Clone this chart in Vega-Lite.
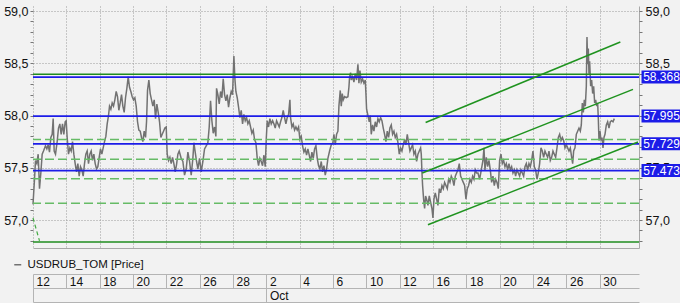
{
  "$schema": "https://vega.github.io/schema/vega-lite/v6.json",
  "width": 606,
  "height": 242,
  "autosize": {"type": "none"},
  "padding": {"left": 33, "top": 6, "right": 41, "bottom": 55},
  "background": "#f2f2f2",
  "config": {
    "view": {"stroke": null},
    "font": "Liberation Sans",
    "axis": {"labelFont": "Liberation Sans", "labelColor": "#111111", "title": null}
  },
  "datasets": {
    "price": [
      {"t":0.0,"p":57.15},{"t":0.03,"p":57.23},{"t":0.09,"p":57.39},{"t":0.15,"p":57.57},{"t":0.23,"p":57.54},{"t":0.31,"p":57.63},{"t":0.39,"p":57.30},{"t":0.47,"p":57.45},{"t":0.55,"p":57.63},{"t":0.63,"p":57.66},{"t":0.75,"p":57.71},{"t":0.83,"p":57.68},{"t":0.91,"p":57.72},{"t":0.99,"p":57.65},{"t":1.07,"p":57.79},{"t":1.15,"p":57.82},{"t":1.21,"p":57.97},{"t":1.27,"p":57.66},{"t":1.35,"p":57.63},{"t":1.45,"p":57.75},{"t":1.53,"p":57.88},{"t":1.61,"p":57.92},{"t":1.69,"p":57.82},{"t":1.77,"p":57.92},{"t":1.85,"p":57.82},{"t":1.93,"p":57.94},{"t":1.99,"p":57.95},{"t":2.05,"p":57.79},{"t":2.13,"p":57.63},{"t":2.21,"p":57.69},{"t":2.29,"p":57.66},{"t":2.37,"p":57.75},{"t":2.45,"p":57.63},{"t":2.53,"p":57.54},{"t":2.61,"p":57.46},{"t":2.69,"p":57.54},{"t":2.77,"p":57.42},{"t":2.85,"p":57.51},{"t":2.93,"p":57.48},{"t":3.01,"p":57.42},{"t":3.09,"p":57.54},{"t":3.17,"p":57.63},{"t":3.25,"p":57.66},{"t":3.33,"p":57.54},{"t":3.41,"p":57.63},{"t":3.49,"p":57.66},{"t":3.57,"p":57.57},{"t":3.65,"p":57.63},{"t":3.73,"p":57.54},{"t":3.81,"p":57.49},{"t":3.89,"p":57.51},{"t":3.97,"p":57.60},{"t":4.05,"p":57.68},{"t":4.13,"p":57.63},{"t":4.21,"p":57.69},{"t":4.29,"p":57.75},{"t":4.37,"p":57.80},{"t":4.45,"p":57.92},{"t":4.53,"p":58.00},{"t":4.59,"p":58.09},{"t":4.67,"p":58.06},{"t":4.75,"p":58.12},{"t":4.83,"p":58.09},{"t":4.91,"p":58.15},{"t":4.99,"p":58.23},{"t":5.07,"p":58.18},{"t":5.15,"p":58.05},{"t":5.23,"p":58.12},{"t":5.31,"p":58.20},{"t":5.39,"p":58.09},{"t":5.47,"p":58.03},{"t":5.55,"p":58.17},{"t":5.63,"p":58.26},{"t":5.71,"p":58.37},{"t":5.79,"p":58.27},{"t":5.87,"p":58.23},{"t":5.95,"p":58.18},{"t":6.03,"p":58.15},{"t":6.11,"p":58.17},{"t":6.19,"p":58.09},{"t":6.27,"p":57.94},{"t":6.35,"p":57.86},{"t":6.43,"p":57.85},{"t":6.51,"p":57.79},{"t":6.59,"p":57.75},{"t":6.67,"p":57.85},{"t":6.75,"p":57.79},{"t":6.81,"p":57.94},{"t":6.87,"p":58.24},{"t":6.95,"p":58.34},{"t":7.03,"p":58.21},{"t":7.11,"p":58.15},{"t":7.19,"p":58.09},{"t":7.27,"p":58.15},{"t":7.35,"p":57.97},{"t":7.43,"p":58.11},{"t":7.51,"p":58.03},{"t":7.59,"p":57.94},{"t":7.67,"p":57.79},{"t":7.75,"p":57.82},{"t":7.83,"p":57.85},{"t":7.91,"p":57.88},{"t":7.99,"p":57.89},{"t":8.05,"p":57.63},{"t":8.13,"p":57.57},{"t":8.21,"p":57.60},{"t":8.29,"p":57.54},{"t":8.37,"p":57.60},{"t":8.45,"p":57.54},{"t":8.53,"p":57.46},{"t":8.61,"p":57.53},{"t":8.69,"p":57.63},{"t":8.77,"p":57.66},
      {"t":8.89,"p":57.59},{"t":8.99,"p":57.56},{"t":9.09,"p":57.43},{"t":9.19,"p":57.49},{"t":9.29,"p":57.65},{"t":9.39,"p":57.56},{"t":9.49,"p":57.43},{"t":9.59,"p":57.59},{"t":9.65,"p":57.74},{"t":9.73,"p":57.65},{"t":9.81,"p":57.56},{"t":9.89,"p":57.49},{"t":9.99,"p":57.59},{"t":10.09,"p":57.46},{"t":10.19,"p":57.56},{"t":10.29,"p":57.68},{"t":10.39,"p":57.71},{"t":10.49,"p":57.74},{"t":10.57,"p":57.89},{"t":10.65,"p":58.14},{"t":10.73,"p":57.95},{"t":10.81,"p":57.83},{"t":10.89,"p":57.89},{"t":10.97,"p":57.80},{"t":11.01,"p":58.26},{"t":11.09,"p":58.20},{"t":11.17,"p":58.11},{"t":11.25,"p":58.23},{"t":11.33,"p":58.17},{"t":11.41,"p":58.35},{"t":11.49,"p":58.20},{"t":11.57,"p":58.14},{"t":11.65,"p":58.20},{"t":11.73,"p":58.08},{"t":11.81,"p":58.17},{"t":11.89,"p":58.23},{"t":11.97,"p":58.20},{"t":12.05,"p":58.57},{"t":12.11,"p":58.35},{"t":12.17,"p":58.23},{"t":12.25,"p":58.17},{"t":12.33,"p":58.08},{"t":12.41,"p":57.98},{"t":12.49,"p":58.05},{"t":12.57,"p":57.92},{"t":12.65,"p":58.01},{"t":12.73,"p":57.95},{"t":12.81,"p":57.98},{"t":12.89,"p":57.92},{"t":12.97,"p":57.95},{"t":13.05,"p":57.89},{"t":13.13,"p":57.83},{"t":13.21,"p":57.86},{"t":13.29,"p":57.77},{"t":13.37,"p":57.74},{"t":13.45,"p":57.59},{"t":13.53,"p":57.52},{"t":13.61,"p":57.59},{"t":13.69,"p":57.56},{"t":13.77,"p":57.52},{"t":13.85,"p":57.62},{"t":13.93,"p":57.51},{"t":13.99,"p":57.77},{"t":14.05,"p":57.95},{"t":14.13,"p":57.89},{"t":14.21,"p":57.97},{"t":14.29,"p":57.92},{"t":14.37,"p":57.95},{"t":14.45,"p":57.92},{"t":14.53,"p":57.88},{"t":14.61,"p":57.95},{"t":14.69,"p":57.92},{"t":14.77,"p":57.89},{"t":14.85,"p":57.94},{"t":14.93,"p":57.98},{"t":15.01,"p":58.05},{"t":15.09,"p":57.98},{"t":15.17,"p":57.92},{"t":15.25,"p":57.98},{"t":15.33,"p":58.01},{"t":15.41,"p":58.15},{"t":15.45,"p":57.98},{"t":15.53,"p":57.89},{"t":15.61,"p":57.92},{"t":15.69,"p":57.86},{"t":15.77,"p":57.89},{"t":15.85,"p":57.86},{"t":15.93,"p":57.89},{"t":16.01,"p":57.77},{"t":16.09,"p":57.80},{"t":16.17,"p":57.71},{"t":16.25,"p":57.65},{"t":16.33,"p":57.68},{"t":16.41,"p":57.62},{"t":16.49,"p":57.68},{"t":16.57,"p":57.62},{"t":16.65,"p":57.56},{"t":16.73,"p":57.65},{"t":16.81,"p":57.59},{"t":16.89,"p":57.68},{"t":16.97,"p":57.71},{"t":17.05,"p":57.59},{"t":17.13,"p":57.52},{"t":17.21,"p":57.49},{"t":17.29,"p":57.56},{"t":17.37,"p":57.46},{"t":17.45,"p":57.52},{"t":17.53,"p":57.43},{"t":17.61,"p":57.49},{"t":17.69,"p":57.59},
      {"t":17.79,"p":57.66},{"t":17.89,"p":57.72},{"t":17.99,"p":57.74},{"t":18.05,"p":57.82},{"t":18.13,"p":57.72},{"t":18.21,"p":57.82},{"t":18.29,"p":57.85},{"t":18.35,"p":58.09},{"t":18.43,"p":58.24},{"t":18.49,"p":58.09},{"t":18.55,"p":58.21},{"t":18.61,"p":58.15},{"t":18.69,"p":58.18},{"t":18.79,"p":58.17},{"t":18.89,"p":58.18},{"t":18.95,"p":58.27},{"t":18.99,"p":58.37},{"t":19.05,"p":58.41},{"t":19.09,"p":58.34},{"t":19.17,"p":58.37},{"t":19.25,"p":58.32},{"t":19.33,"p":58.40},{"t":19.41,"p":58.34},{"t":19.49,"p":58.49},{"t":19.55,"p":58.31},{"t":19.61,"p":58.43},{"t":19.69,"p":58.32},{"t":19.77,"p":58.35},{"t":19.85,"p":58.31},{"t":19.93,"p":58.34},{"t":19.97,"p":58.21},{"t":20.01,"p":58.06},{"t":20.09,"p":58.00},{"t":20.17,"p":57.94},{"t":20.23,"p":58.00},{"t":20.29,"p":57.82},{"t":20.37,"p":57.91},{"t":20.45,"p":57.85},{"t":20.53,"p":57.94},{"t":20.61,"p":57.89},{"t":20.69,"p":57.97},{"t":20.77,"p":57.94},{"t":20.85,"p":57.98},{"t":20.93,"p":57.95},{"t":21.01,"p":57.88},{"t":21.09,"p":57.82},{"t":21.17,"p":57.75},{"t":21.25,"p":57.85},{"t":21.33,"p":57.79},{"t":21.41,"p":57.88},{"t":21.49,"p":57.91},{"t":21.57,"p":57.82},{"t":21.65,"p":57.85},{"t":21.73,"p":57.79},{"t":21.81,"p":57.82},{"t":21.89,"p":57.74},{"t":21.97,"p":57.63},{"t":22.05,"p":57.69},{"t":22.13,"p":57.66},{"t":22.21,"p":57.72},{"t":22.29,"p":57.77},{"t":22.37,"p":57.72},{"t":22.45,"p":57.82},{"t":22.53,"p":57.74},{"t":22.61,"p":57.66},{"t":22.69,"p":57.69},{"t":22.77,"p":57.72},{"t":22.85,"p":57.63},{"t":22.93,"p":57.66},{"t":23.01,"p":57.56},{"t":23.09,"p":57.63},{"t":23.17,"p":57.66},{"t":23.25,"p":57.69},{"t":23.29,"p":57.63},{"t":23.33,"p":57.46},{"t":23.37,"p":57.33},{"t":23.43,"p":57.20},{"t":23.49,"p":57.11},{"t":23.55,"p":57.23},{"t":23.61,"p":57.20},{"t":23.69,"p":57.14},{"t":23.77,"p":57.23},{"t":23.85,"p":57.17},{"t":23.93,"p":57.11},{"t":23.99,"p":57.02},{"t":24.05,"p":57.20},{"t":24.13,"p":57.26},{"t":24.21,"p":57.20},{"t":24.29,"p":57.14},{"t":24.37,"p":57.30},{"t":24.45,"p":57.26},{"t":24.53,"p":57.33},{"t":24.61,"p":57.30},{"t":24.69,"p":57.36},{"t":24.77,"p":57.33},{"t":24.85,"p":57.30},{"t":24.93,"p":57.39},{"t":25.01,"p":57.36},{"t":25.09,"p":57.42},{"t":25.17,"p":57.39},{"t":25.25,"p":57.33},{"t":25.33,"p":57.42},{"t":25.41,"p":57.45},{"t":25.49,"p":57.48},{"t":25.57,"p":57.54},{"t":25.65,"p":57.42},{"t":25.73,"p":57.39},{"t":25.81,"p":57.36},{"t":25.89,"p":57.33},{"t":25.97,"p":57.20},{"t":26.05,"p":57.30},{"t":26.13,"p":57.33},{"t":26.21,"p":57.39},{"t":26.29,"p":57.36},{"t":26.37,"p":57.42},{"t":26.45,"p":57.39},{"t":26.53,"p":57.48},{"t":26.61,"p":57.45},
      {"t":26.69,"p":57.45},{"t":26.79,"p":57.39},{"t":26.89,"p":57.48},{"t":26.99,"p":57.57},{"t":27.05,"p":57.69},{"t":27.11,"p":57.48},{"t":27.19,"p":57.60},{"t":27.27,"p":57.51},{"t":27.35,"p":57.57},{"t":27.43,"p":57.48},{"t":27.51,"p":57.36},{"t":27.59,"p":57.42},{"t":27.67,"p":57.33},{"t":27.75,"p":57.39},{"t":27.83,"p":57.36},{"t":27.91,"p":57.30},{"t":27.99,"p":57.57},{"t":28.07,"p":57.63},{"t":28.15,"p":57.54},{"t":28.23,"p":57.57},{"t":28.31,"p":57.51},{"t":28.39,"p":57.54},{"t":28.47,"p":57.48},{"t":28.55,"p":57.54},{"t":28.63,"p":57.48},{"t":28.71,"p":57.51},{"t":28.79,"p":57.45},{"t":28.87,"p":57.48},{"t":28.95,"p":57.42},{"t":29.03,"p":57.48},{"t":29.11,"p":57.45},{"t":29.19,"p":57.42},{"t":29.27,"p":57.48},{"t":29.35,"p":57.45},{"t":29.43,"p":57.42},{"t":29.51,"p":57.51},{"t":29.59,"p":57.54},{"t":29.67,"p":57.48},{"t":29.75,"p":57.54},{"t":29.83,"p":57.51},{"t":29.91,"p":57.57},{"t":29.99,"p":57.66},{"t":30.07,"p":57.51},{"t":30.15,"p":57.48},{"t":30.23,"p":57.39},{"t":30.31,"p":57.45},{"t":30.39,"p":57.54},{"t":30.47,"p":57.69},{"t":30.55,"p":57.66},{"t":30.63,"p":57.60},{"t":30.71,"p":57.66},{"t":30.79,"p":57.63},{"t":30.87,"p":57.60},{"t":30.95,"p":57.66},{"t":31.03,"p":57.57},{"t":31.11,"p":57.60},{"t":31.19,"p":57.66},{"t":31.27,"p":57.63},{"t":31.35,"p":57.60},{"t":31.43,"p":57.69},{"t":31.51,"p":57.79},{"t":31.59,"p":57.82},{"t":31.67,"p":57.76},{"t":31.75,"p":57.79},{"t":31.83,"p":57.76},{"t":31.91,"p":57.69},{"t":31.99,"p":57.72},{"t":32.07,"p":57.69},{"t":32.15,"p":57.66},{"t":32.23,"p":57.69},{"t":32.31,"p":57.60},{"t":32.37,"p":57.54},{"t":32.43,"p":57.66},{"t":32.51,"p":57.69},{"t":32.59,"p":57.82},{"t":32.67,"p":57.85},{"t":32.75,"p":57.88},{"t":32.83,"p":57.85},{"t":32.89,"p":57.91},{"t":32.95,"p":58.12},{"t":33.01,"p":58.03},{"t":33.07,"p":58.15},{"t":33.13,"p":58.09},{"t":33.19,"p":58.28},{"t":33.23,"p":58.75},{"t":33.27,"p":58.49},{"t":33.31,"p":58.64},{"t":33.35,"p":58.40},{"t":33.39,"p":58.52},{"t":33.45,"p":58.28},{"t":33.51,"p":58.34},{"t":33.57,"p":58.21},{"t":33.63,"p":58.28},{"t":33.69,"p":58.12},{"t":33.75,"p":58.15},{"t":33.81,"p":58.09},{"t":33.87,"p":58.12},{"t":33.91,"p":57.97},{"t":33.95,"p":57.76},{"t":34.01,"p":57.85},{"t":34.07,"p":57.76},{"t":34.13,"p":57.79},{"t":34.19,"p":57.69},{"t":34.25,"p":57.79},{"t":34.31,"p":57.82},{"t":34.39,"p":57.91},{"t":34.47,"p":57.94},{"t":34.55,"p":57.88},{"t":34.63,"p":57.94},{"t":34.71,"p":57.95},{"t":34.79,"p":57.94},{"t":34.87,"p":57.97}
    ],
    "blue": [
      {"level": 58.368, "label": "58.368"},
      {"level": 57.995, "label": "57.995"},
      {"level": 57.729, "label": "57.729"},
      {"level": 57.473, "label": "57.473"}
    ],
    "dashed": [{"level": 57.771}, {"level": 57.581}, {"level": 57.394}, {"level": 57.161}],
    "green": [{"level": 58.395}, {"level": 56.789}],
    "channel": [
      {"line": "upper", "t": 23.55, "p": 57.933}, {"line": "upper", "t": 35.23, "p": 58.704},
      {"line": "middle", "t": 23.35, "p": 57.45}, {"line": "middle", "t": 35.99, "p": 58.25},
      {"line": "lower", "t": 23.69, "p": 56.954}, {"line": "lower", "t": 36.29, "p": 57.746}
    ],
    "diag": [{"t": 0.0, "p": 57.02}, {"t": 0.39, "p": 56.8}]
  },
  "layer": [
    {
      "data": {"name": "price"},
      "mark": {"type": "line", "strokeWidth": 1.5},
      "encoding": {
        "x": {
          "field": "t", "type": "quantitative",
          "scale": {"domain": [0, 36.35], "nice": false, "zero": false},
          "axis": {
            "orient": "bottom", "offset": 26,
            "values": [0, 2, 4, 6, 8, 10, 12, 14, 16, 18, 20, 22, 24, 26, 28, 30, 32, 34],
            "labelExpr": "['12','14','18','20','22','26','28','2','4','6','10','12','16','18','20','24','26','30'][round(datum.value/2)]",
            "tickSize": 14, "tickColor": "#b4b4b4", "domainColor": "#b4b4b4",
            "labelAlign": "left", "labelBaseline": "middle", "labelPadding": -7, "labelOffset": 3,
            "labelFontSize": 12, "labelFlush": false, "labelOverlap": false, "labelBound": false, "grid": false
          }
        },
        "y": {
          "field": "p", "type": "quantitative",
          "scale": {"domain": [56.78, 59], "nice": false, "zero": false},
          "axis": {
            "orient": "left", "values": [57, 57.5, 58, 58.5, 59],
            "labelExpr": "replace(format(datum.value, '.1f'), '.', ',')",
            "ticks": false, "domain": false, "grid": false, "labelPadding": 5, "labelFontSize": 12.5
          }
        },
        "color": {
          "datum": "USDRUB_TOM [Price]", "type": "nominal",
          "scale": {"range": ["#727272"]},
          "legend": {
            "orient": "none", "legendX": -21, "legendY": 253, "title": null,
            "symbolType": "stroke", "symbolStrokeWidth": 1.5, "symbolSize": 49,
            "labelFontSize": 11.5, "labelFont": "Liberation Sans", "labelColor": "#111111", "labelOffset": 4
          }
        }
      }
    },
    {
      "data": {"name": "dashed"},
      "mark": {"type": "rule", "color": "#66bb66", "strokeWidth": 1.5, "strokeDash": [9, 4]},
      "encoding": {"y": {"field": "level", "type": "quantitative", "axis": null}}
    },
    {
      "data": {"name": "blue"},
      "mark": {"type": "rule", "color": "#1c1ce8", "strokeWidth": 1.8},
      "encoding": {"y": {"field": "level", "type": "quantitative", "axis": null}}
    },
    {
      "data": {"name": "green"},
      "mark": {"type": "rule", "color": "#1f8c1f", "strokeWidth": 1.5},
      "encoding": {"y": {"field": "level", "type": "quantitative", "axis": null}}
    },
    {
      "data": {"name": "channel"},
      "mark": {"type": "line", "color": "#1f931f", "strokeWidth": 1.5},
      "encoding": {
        "detail": {"field": "line"},
        "x": {
          "field": "t", "type": "quantitative",
          "axis": {
            "orient": "bottom", "offset": 40, "values": [0, 14],
            "labelExpr": "datum.value == 14 ? 'Oct' : ''",
            "tickSize": 14, "tickColor": "#b4b4b4", "domainColor": "#b4b4b4",
            "labelAlign": "left", "labelBaseline": "middle", "labelPadding": -7, "labelOffset": 3,
            "labelFontSize": 12, "labelFlush": false, "labelOverlap": false, "labelBound": false, "grid": false
          }
        },
        "y": {
          "field": "p", "type": "quantitative",
          "axis": {
            "orient": "right", "values": [57, 57.5, 58.5, 59],
            "labelExpr": "replace(format(datum.value, '.1f'), '.', ',')",
            "ticks": false, "domain": true, "domainColor": "#a8a8a8", "grid": false,
            "labelPadding": 6, "labelFontSize": 12.5
          }
        }
      }
    },
    {
      "data": {"name": "diag"},
      "mark": {"type": "line", "color": "#44aa44", "strokeWidth": 1.2, "strokeDash": [4, 3]},
      "encoding": {
        "x": {
          "field": "t", "type": "quantitative",
          "axis": {
            "orient": "bottom", "offset": 0,
            "values": [0, 2, 4, 6, 8, 10, 12, 14, 16, 18, 20, 22, 24, 26, 28, 30, 32, 34],
            "labels": false, "ticks": false, "domain": true, "domainColor": "#a8a8a8",
            "grid": true, "gridColor": "#9a9a9a", "gridDash": [1, 2], "gridWidth": 1
          }
        },
        "y": {
          "field": "p", "type": "quantitative",
          "axis": {
            "orient": "left", "values": [57, 57.5, 58, 58.5, 59],
            "labels": false, "ticks": false, "domain": false,
            "grid": true, "gridColor": "#9a9a9a", "gridDash": [1, 2], "gridWidth": 1
          }
        }
      }
    },
    {
      "data": {"name": "blue"},
      "mark": {"type": "bar", "orient": "horizontal", "height": 13, "color": "#1c1ce8"},
      "encoding": {
        "x": {
          "datum": 36.5, "type": "quantitative",
          "axis": {
            "orient": "bottom", "offset": 54, "labels": false, "ticks": false,
            "domain": true, "domainColor": "#b4b4b4", "grid": false
          }
        },
        "x2": {"datum": 39.2},
        "y": {
          "field": "level", "type": "quantitative",
          "axis": {
            "orient": "left",
            "values": [56.8, 56.9, 57, 57.1, 57.2, 57.3, 57.4, 57.5, 57.6, 57.7, 57.8, 57.9, 58, 58.1, 58.2, 58.3, 58.4, 58.5, 58.6, 58.7, 58.8, 58.9, 59],
            "labels": false, "domain": false, "grid": false, "ticks": true, "tickSize": 3, "tickColor": "#777777"
          }
        }
      }
    },
    {
      "data": {"name": "blue"},
      "mark": {"type": "text", "align": "left", "baseline": "middle", "color": "#ffffff", "fontSize": 12, "font": "Liberation Sans"},
      "encoding": {
        "x": {"datum": 36.6, "type": "quantitative", "axis": null},
        "y": {
          "field": "level", "type": "quantitative",
          "axis": {
            "orient": "right",
            "values": [56.8, 56.9, 57, 57.1, 57.2, 57.3, 57.4, 57.5, 57.6, 57.7, 57.8, 57.9, 58, 58.1, 58.2, 58.3, 58.4, 58.5, 58.6, 58.7, 58.8, 58.9, 59],
            "labels": false, "domain": false, "grid": false, "ticks": true, "tickSize": 3, "tickColor": "#777777"
          }
        },
        "text": {"field": "label"}
      }
    }
  ],
  "resolve": {"axis": {"x": "independent", "y": "independent"}}
}
